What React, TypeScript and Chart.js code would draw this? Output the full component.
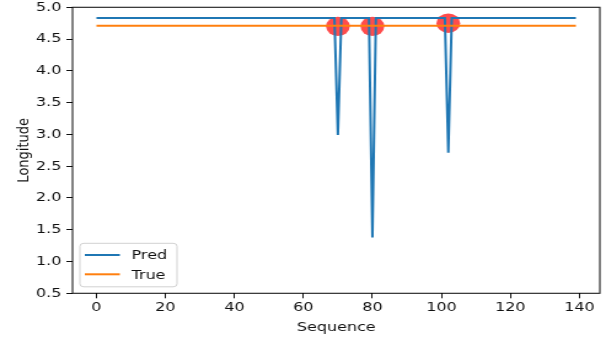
import { useEffect, useRef } from 'react';
import { Chart, registerables } from 'chart.js';

Chart.register(...registerables);

// ---- data ----
const SERIES_LABELS = ['Pred', 'True'];

const PRED = [
  4.83, 4.83, 4.83, 4.83, 4.83, 4.83, 4.83, 4.83, 4.83, 4.83,
  4.83, 4.83, 4.83, 4.83, 4.83, 4.83, 4.83, 4.83, 4.83, 4.83,
  4.83, 4.83, 4.83, 4.83, 4.83, 4.83, 4.83, 4.83, 4.83, 4.83,
  4.83, 4.83, 4.83, 4.83, 4.83, 4.83, 4.83, 4.83, 4.83, 4.83,
  4.83, 4.83, 4.83, 4.83, 4.83, 4.83, 4.83, 4.83, 4.83, 4.83,
  4.83, 4.83, 4.83, 4.83, 4.83, 4.83, 4.83, 4.83, 4.83, 4.83,
  4.83, 4.83, 4.83, 4.83, 4.83, 4.83, 4.83, 4.83, 4.83, 4.83,
  2.99, 4.83, 4.83, 4.83, 4.83, 4.83, 4.83, 4.83, 4.83, 4.83,
  1.38, 4.83, 4.83, 4.83, 4.83, 4.83, 4.83, 4.83, 4.83, 4.83,
  4.83, 4.83, 4.83, 4.83, 4.83, 4.83, 4.83, 4.83, 4.83, 4.83,
  4.83, 4.83, 2.71, 4.83, 4.83, 4.83, 4.83, 4.83, 4.83, 4.83,
  4.83, 4.83, 4.83, 4.83, 4.83, 4.83, 4.83, 4.83, 4.83, 4.83,
  4.83, 4.83, 4.83, 4.83, 4.83, 4.83, 4.83, 4.83, 4.83, 4.83,
  4.83, 4.83, 4.83, 4.83, 4.83, 4.83, 4.83, 4.83, 4.83, 4.83,
];

const TRUE_VALUES = [
  4.71, 4.71, 4.71, 4.71, 4.71, 4.71, 4.71, 4.71, 4.71, 4.71,
  4.71, 4.71, 4.71, 4.71, 4.71, 4.71, 4.71, 4.71, 4.71, 4.71,
  4.71, 4.71, 4.71, 4.71, 4.71, 4.71, 4.71, 4.71, 4.71, 4.71,
  4.71, 4.71, 4.71, 4.71, 4.71, 4.71, 4.71, 4.71, 4.71, 4.71,
  4.71, 4.71, 4.71, 4.71, 4.71, 4.71, 4.71, 4.71, 4.71, 4.71,
  4.71, 4.71, 4.71, 4.71, 4.71, 4.71, 4.71, 4.71, 4.71, 4.71,
  4.71, 4.71, 4.71, 4.71, 4.71, 4.71, 4.71, 4.71, 4.71, 4.71,
  4.71, 4.71, 4.71, 4.71, 4.71, 4.71, 4.71, 4.71, 4.71, 4.71,
  4.71, 4.71, 4.71, 4.71, 4.71, 4.71, 4.71, 4.71, 4.71, 4.71,
  4.71, 4.71, 4.71, 4.71, 4.71, 4.71, 4.71, 4.71, 4.71, 4.71,
  4.71, 4.71, 4.71, 4.71, 4.71, 4.71, 4.71, 4.71, 4.71, 4.71,
  4.71, 4.71, 4.71, 4.71, 4.71, 4.71, 4.71, 4.71, 4.71, 4.71,
  4.71, 4.71, 4.71, 4.71, 4.71, 4.71, 4.71, 4.71, 4.71, 4.71,
  4.71, 4.71, 4.71, 4.71, 4.71, 4.71, 4.71, 4.71, 4.71, 4.71,
];

const ANOMALY_X = [70, 80, 102];
const ANOMALY_Y = [4.70, 4.70, 4.75];

const X_TICKS = [0, 20, 40, 60, 80, 100, 120, 140];
const Y_TICKS = [0.5, 1.0, 1.5, 2.0, 2.5, 3.0, 3.5, 4.0, 4.5, 5.0];
const X_LIMITS = [-6.95, 145.95];
const Y_LIMITS = [0.5, 5.0];
const X_TITLE = 'Sequence';
const Y_TITLE = 'Longitude';

// ---- presentation ----
const W = 493;
const H = 339;
const SX = 606 / W;
const FONT = 'DejaVu Sans';
const BLUE = '#1f77b4';
const ORANGE = '#ff7f0e';

const framePlugin = {
  id: 'frame',
  afterDatasetsDraw(chart: any) {
    const { ctx, chartArea: a } = chart;
    ctx.save();
    ctx.strokeStyle = 'rgba(0,0,0,0.9)';
    ctx.lineWidth = 1.1;
    ctx.strokeRect(a.left, a.top, a.right - a.left, a.bottom - a.top);
    ctx.restore();
  },
};

const legendPlugin = {
  id: 'mplLegend',
  afterDraw(chart: any) {
    const { ctx, chartArea: a } = chart;
    const x0 = a.left + 6;
    const y0 = a.bottom - 50;
    const w = 79;
    const h = 43.5;
    ctx.save();
    ctx.beginPath();
    if (ctx.roundRect) ctx.roundRect(x0, y0, w, h, 3);
    else ctx.rect(x0, y0, w, h);
    ctx.fillStyle = 'rgba(255,255,255,0.8)';
    ctx.fill();
    ctx.strokeStyle = 'rgba(204,204,204,0.9)';
    ctx.lineWidth = 1;
    ctx.stroke();
    const rows = [y0 + 11.7, y0 + 31];
    SERIES_LABELS.forEach((label, i) => {
      const ds = chart.data.datasets[i];
      ctx.strokeStyle = ds.borderColor;
      ctx.lineWidth = 2;
      ctx.beginPath();
      ctx.moveTo(x0 + 4, rows[i]);
      ctx.lineTo(x0 + 32.5, rows[i]);
      ctx.stroke();
      ctx.fillStyle = '#111';
      ctx.font = `13px "${FONT}"`;
      ctx.textBaseline = 'middle';
      ctx.textAlign = 'left';
      ctx.fillText(label, x0 + 42, rows[i] + 1);
    });
    ctx.restore();
  },
};

const zeroPadding = (s: any) => {
  s.paddingLeft = 0;
  s.paddingRight = 0;
  s.paddingTop = 0;
  s.paddingBottom = 0;
};

export default function App() {
  const ref = useRef<HTMLCanvasElement | null>(null);

  useEffect(() => {
    const canvas = ref.current;
    if (!canvas) return;
    const tickFont = { family: FONT, size: 13 };
    const chart = new Chart(canvas, {
      type: 'line',
      data: {
        datasets: [
          {
            label: SERIES_LABELS[0],
            data: PRED.map((y, i) => ({ x: i, y })),
            borderColor: BLUE,
            backgroundColor: BLUE,
            borderWidth: 2,
            pointRadius: 0,
            tension: 0,
            order: 2,
          },
          {
            label: SERIES_LABELS[1],
            data: TRUE_VALUES.map((y, i) => ({ x: i, y })),
            borderColor: ORANGE,
            backgroundColor: ORANGE,
            borderWidth: 2,
            pointRadius: 0,
            tension: 0,
            order: 1,
          },
          {
            label: 'anomaly',
            data: ANOMALY_X.map((x, i) => ({ x, y: ANOMALY_Y[i] })),
            showLine: false,
            pointRadius: 9.7,
            pointBackgroundColor: 'rgba(255,0,0,0.7)',
            pointBorderWidth: 0,
            borderWidth: 0,
            order: 3,
          },
        ],
      },
      options: {
        responsive: false,
        animation: false,
        devicePixelRatio: 1,
        layout: {
          autoPadding: false,
          padding: { left: 0, right: 5, top: 7.3, bottom: 0 },
        },
        plugins: { legend: { display: false }, tooltip: { enabled: false } },
        scales: {
          x: {
            type: 'linear',
            min: X_LIMITS[0],
            max: X_LIMITS[1],
            afterBuildTicks: (s: any) => {
              s.ticks = X_TICKS.map((v) => ({ value: v }));
            },
            afterFit: (s: any) => {
              s.height = 45.7;
              zeroPadding(s);
            },
            ticks: {
              autoSkip: false,
              maxRotation: 0,
              padding: 2,
              font: tickFont,
              color: '#111',
              callback: (v: any) => String(v),
            },
            grid: {
              display: true,
              drawOnChartArea: false,
              drawTicks: true,
              tickLength: 5,
              color: '#111',
              lineWidth: 1,
            },
            border: { display: false },
            title: {
              display: true,
              text: X_TITLE,
              font: tickFont,
              color: '#111',
              padding: { top: 0, bottom: 4 },
            },
          },
          y: {
            type: 'linear',
            min: Y_LIMITS[0],
            max: Y_LIMITS[1],
            afterBuildTicks: (s: any) => {
              s.ticks = Y_TICKS.map((v) => ({ value: v }));
            },
            afterFit: (s: any) => {
              s.width = 59;
              zeroPadding(s);
            },
            ticks: {
              autoSkip: false,
              padding: 4,
              font: tickFont,
              color: '#111',
              callback: (v: any) => Number(v).toFixed(1),
            },
            grid: {
              display: true,
              drawOnChartArea: false,
              drawTicks: true,
              tickLength: 5,
              color: '#111',
              lineWidth: 1,
            },
            border: { display: false },
            title: {
              display: true,
              text: Y_TITLE,
              font: tickFont,
              color: '#111',
              padding: { top: 12, bottom: 0 },
            },
          },
        },
      },
      plugins: [framePlugin, legendPlugin],
    } as any);
    return () => chart.destroy();
  }, []);

  return (
    <div
      style={{
        position: 'absolute',
        left: 0,
        top: 0,
        width: 606,
        height: 339,
        overflow: 'hidden',
        background: '#fff',
      }}
    >
      <canvas
        ref={ref}
        width={W}
        height={H}
        style={{
          display: 'block',
          width: W,
          height: H,
          transform: `scaleX(${SX})`,
          transformOrigin: '0 0',
        }}
      />
    </div>
  );
}
